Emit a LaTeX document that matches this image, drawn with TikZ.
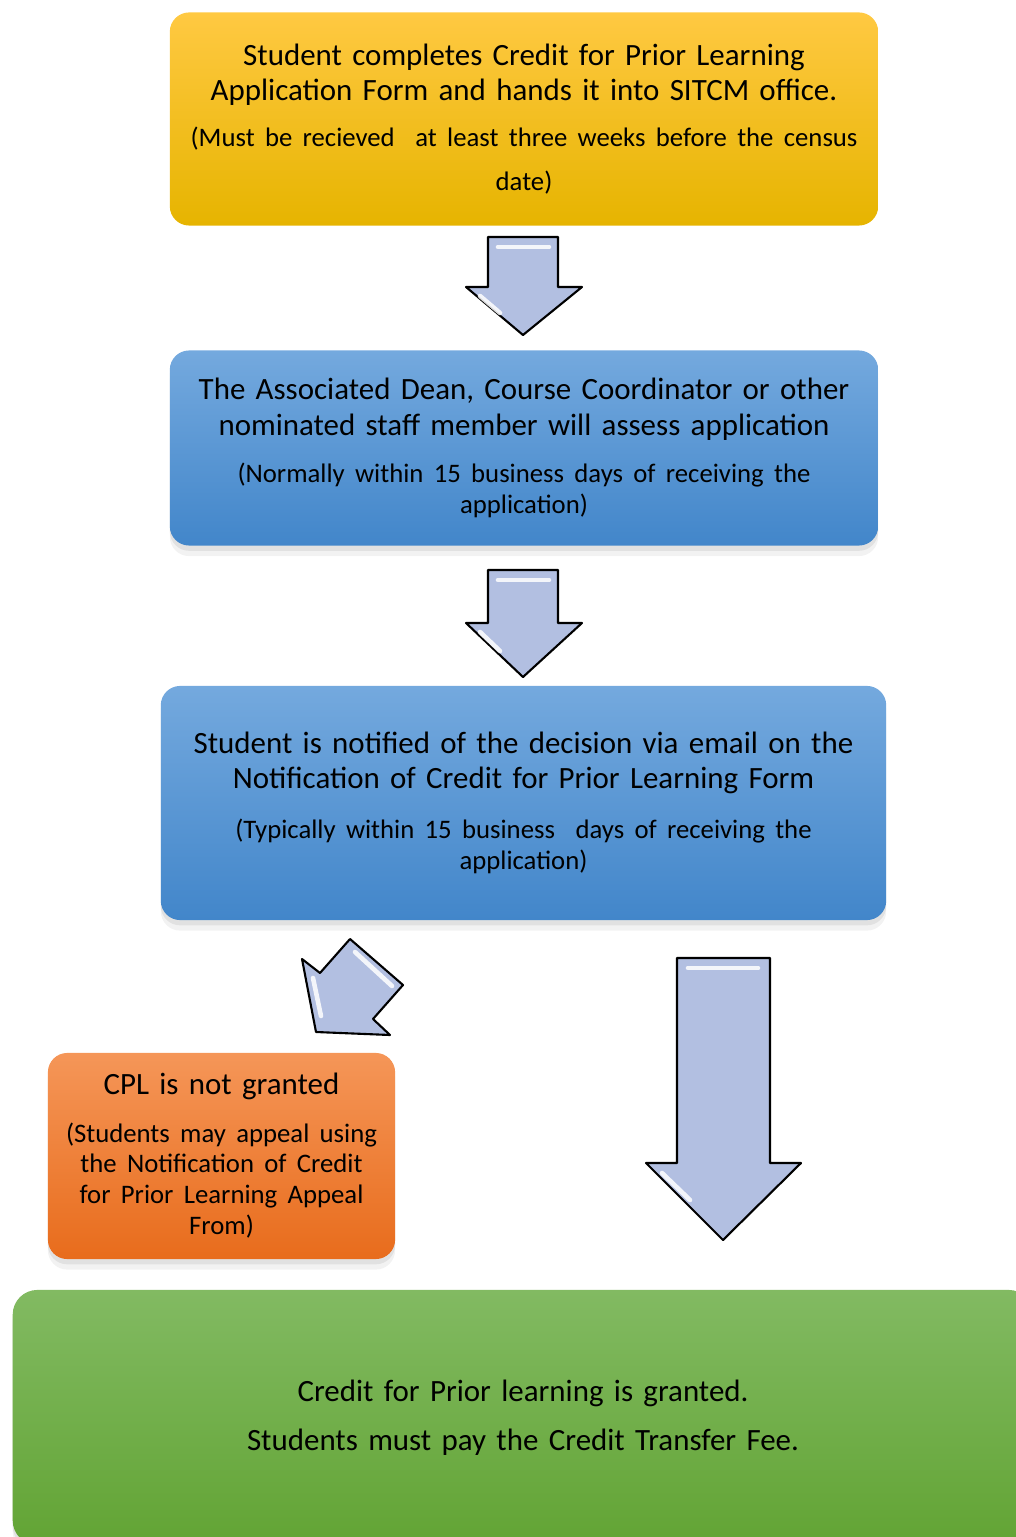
\documentclass[tikz,border=0pt]{standalone}
\usepackage{fontspec}
\setmainfont{Carlito}
\usetikzlibrary{shadows}

\definecolor{yellowtop}{RGB}{255,201,66}
\definecolor{yellowmid}{RGB}{255,192,0}
\definecolor{yellowbot}{RGB}{230,180,0}
\definecolor{bluetop}{RGB}{116,169,222}
\definecolor{bluebot}{RGB}{66,134,202}
\definecolor{orangetop}{RGB}{245,150,88}
\definecolor{orangebot}{RGB}{232,108,28}
\definecolor{greentop}{RGB}{130,186,98}
\definecolor{greenbot}{RGB}{98,164,52}
\definecolor{arrowfill}{RGB}{178,191,225}

\newcommand{\mainfont}{\fontsize{8.8}{10}\selectfont}
\newcommand{\notefont}{\fontsize{7.6}{8.8}\selectfont}

\begin{document}
\begin{tikzpicture}[x=0.01cm,y=-0.01cm,
    box/.style={rounded corners=5.5pt, align=center, inner sep=0pt, font=\mainfont},
    soft/.style={drop shadow={shadow xshift=0pt, shadow yshift=-3pt, opacity=0.1},
        drop shadow={shadow xshift=0pt, shadow yshift=-1.5pt, opacity=0.15}},
    yellowbox/.style={box, top color=yellowtop, middle color=yellowmid, bottom color=yellowbot},
    bluebox/.style={box, soft, top color=bluetop, bottom color=bluebot},
    orangebox/.style={box, soft, top color=orangetop, bottom color=orangebot},
    greenbox/.style={box, soft, rounded corners=7pt, top color=greentop, bottom color=greenbot},
    blockarrow/.style={draw=black, line width=0.6pt, fill=arrowfill, line join=round},
    shine/.style={white, line width=1.3pt, opacity=0.85, line cap=round}
]
    \useasboundingbox (0,0) rectangle (1016,1537);
    \clip (0,0) rectangle (1016,1537);

    % boxes
    \node[yellowbox, minimum width=7.08cm, minimum height=2.13cm, text width=7cm] (apply) at (524,119)
        {Student completes Credit for Prior Learning\\ Application Form and hands it into SITCM office.\par\vspace{4.2pt}
         {\notefont (Must be recieved\ \ at least three weeks before the census\\[3.6pt] date)\par}};
    \node[bluebox, minimum width=7.08cm, minimum height=1.95cm, text width=7cm] (assess) at (524,448)
        {The Associated Dean, Course Coordinator or other\\ nominated staff member will assess application\par\vspace{4.6pt}
         {\notefont (Normally within 15 business days of receiving the\\ application)\par}};
    \node[bluebox, minimum width=7.25cm, minimum height=2.34cm, text width=7.1cm] (notify) at (523.5,803)
        {Student is notified of the decision via email on the\\ Notification of Credit for Prior Learning Form\par\vspace{5.3pt}
         {\notefont (Typically within 15 business\ \ days of receiving the\\ application)\par}};
    \node[orangebox, minimum width=3.47cm, minimum height=2.06cm, text width=3.4cm] (refuse) at (221.5,1156)
        {CPL is not granted\par\vspace{4.6pt}
         {\notefont (Students may appeal using\\ the Notification of Credit\\ for Prior Learning Appeal\\ From)\par}};
    \node[greenbox, minimum width=10.2cm, minimum height=2.55cm, text width=9cm] (grant) at (523,1417.5)
        {Credit for Prior learning is granted.\\[3.9pt] Students must pay the Credit Transfer Fee.};

    % arrows
    \draw[blockarrow] (488,237) -- (558,237) -- (558,287) -- (582,287) -- (523,335) -- (466,287) -- (488,287) -- cycle;
    \draw[shine] (498,247) -- (549,247);
    \draw[shine] (480,296) -- (500,313);
    \draw[blockarrow] (488,570) -- (558,570) -- (558,623) -- (582,623) -- (523,677) -- (466,623) -- (488,623) -- cycle;
    \draw[shine] (498,580) -- (549,580);
    \draw[shine] (480,632) -- (500,651);
    \draw[blockarrow] (316,1032) -- (302,959) -- (320,973) -- (350,939) -- (403,985) -- (373,1019) -- (390,1035) -- cycle;
    \draw[shine] (355,952) -- (392,986);
    \draw[shine] (313,978) -- (321,1016);
    \draw[blockarrow] (677,958) -- (770,958) -- (770,1163) -- (801,1163) -- (723,1240) -- (646,1163) -- (677,1163) -- cycle;
    \draw[shine] (688,968) -- (758,968);
    \draw[shine] (662,1173) -- (690,1200);
\end{tikzpicture}
\end{document}
